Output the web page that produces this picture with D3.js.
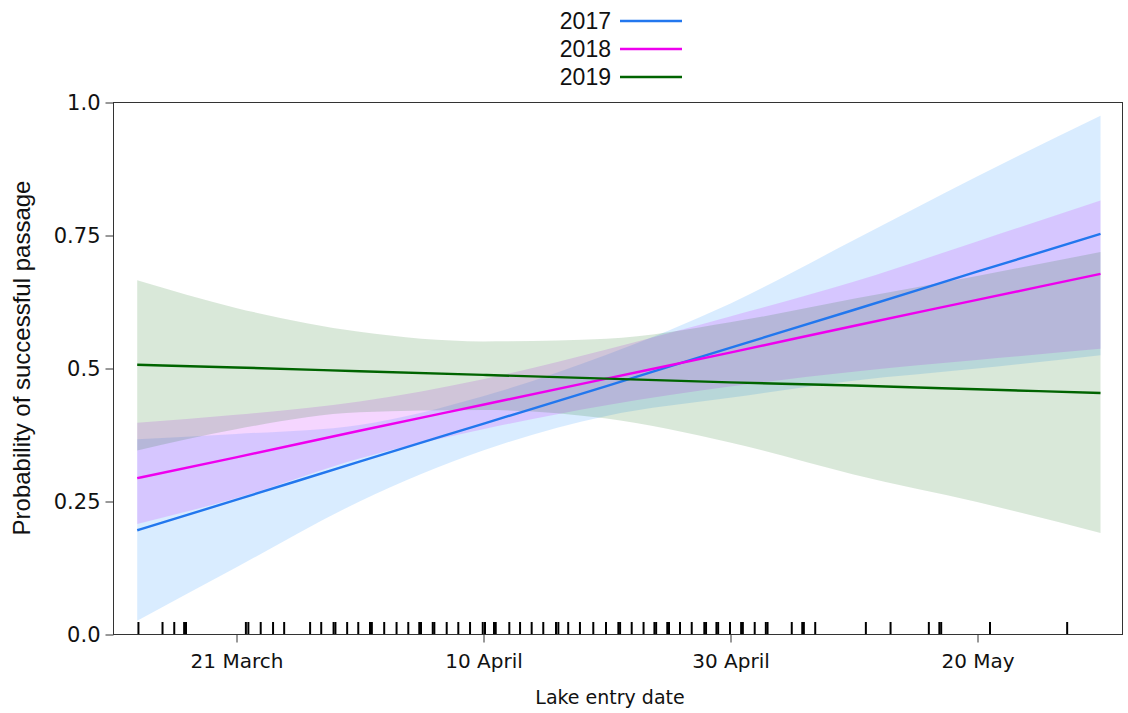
<!DOCTYPE html>
<html>
<head>
<meta charset="utf-8">
<script src="https://cdn.jsdelivr.net/npm/d3@7"></script>
<style>
  html, body { margin: 0; padding: 0; background: #fff; }
  svg { display: block; }
</style>
</head>
<body>
<svg id="chart" width="1128" height="713"></svg>
<script>
// Lake entry day-of-year at which fitted curves and bands are evaluated
const days = [72, 80, 90, 100, 110, 120, 130, 140, 150];

// Fitted probability of successful passage and 95% interval, by year
const fit2017 = [0.195, 0.252, 0.324, 0.395, 0.466, 0.538, 0.609, 0.681, 0.752];
const lo2017  = [0.025, 0.125, 0.249, 0.345, 0.410, 0.444, 0.476, 0.499, 0.524];
const hi2017  = [0.366, 0.376, 0.393, 0.447, 0.525, 0.621, 0.740, 0.860, 0.974];

const fit2018 = [0.293, 0.332, 0.382, 0.431, 0.480, 0.529, 0.579, 0.628, 0.677];
const lo2018  = [0.207, 0.255, 0.330, 0.385, 0.430, 0.465, 0.493, 0.515, 0.536];
const hi2018  = [0.397, 0.412, 0.437, 0.479, 0.535, 0.597, 0.662, 0.738, 0.815];

const fit2019 = [0.506, 0.501, 0.494, 0.487, 0.480, 0.473, 0.467, 0.460, 0.453];
const lo2019  = [0.345, 0.385, 0.417, 0.421, 0.405, 0.360, 0.300, 0.248, 0.190];
const hi2019  = [0.665, 0.613, 0.568, 0.550, 0.555, 0.586, 0.630, 0.673, 0.718];

// Individual lake entry days (rug)
const entryDays = [
  72.1, 74.05, 75.0, 75.8, 75.95, 80.8, 81.0, 82.0, 83.0, 83.9, 86.0, 86.9, 87.9, 88.05,
  89.0, 89.9, 90.85, 91.0, 92.0, 93.0, 93.95, 94.84, 94.98, 95.93, 96.06, 97.06, 98.0,
  98.95, 99.98, 100.16, 100.89, 101.03, 102.13, 103.0, 103.94, 104.88, 105.91, 106.1,
  106.9, 107.85, 108.93, 109.96, 110.96, 111.1, 112.04, 113.0, 113.88, 114.02, 114.92,
  115.06, 115.95, 116.9, 117.92, 118.06, 118.9, 119.04, 120.0, 120.9, 121.04, 122.0,
  122.9, 123.04, 125.0, 125.85, 125.98, 126.9, 131.0, 133.0, 136.1, 136.95, 137.1,
  141.05, 147.3
];

// Axis ticks
const xTickDays   = [80, 100, 120, 140];
const xTickLabels = ["21 March", "10 April", "30 April", "20 May"];
const yTickValues = [0, 0.25, 0.5, 0.75, 1];
const yTickLabels = ["0.0", "0.25", "0.5", "0.75", "1.0"];

const years      = ["2017", "2018", "2019"];
const lineColors = ["#2277ee", "#ee00ee", "#006400"];
const bandColors = ["#1e90ff", "#cc33ff", "#006400"];
const bandAlpha  = [0.17, 0.2, 0.15];

const series = [
  { fit: fit2017, lo: lo2017, hi: hi2017 },
  { fit: fit2018, lo: lo2018, hi: hi2018 },
  { fit: fit2019, lo: lo2019, hi: hi2019 }
];

const plot = { left: 113, right: 1122, top: 102, bottom: 634 };

const x = d3.scaleLinear().domain([70.04, 151.74]).range([plot.left, plot.right]);
const y = d3.scaleLinear().domain([0, 1]).range([plot.bottom, plot.top]);

const svg = d3.select("#chart");

// Confidence bands
const area = d3.area()
  .x(d => x(d.day))
  .y0(d => y(d.lo))
  .y1(d => y(d.hi))
  .curve(d3.curveMonotoneX);

series.forEach((s, i) => {
  const pts = days.map((day, k) => ({ day, lo: s.lo[k], hi: s.hi[k] }));
  svg.append("path")
    .attr("d", area(pts))
    .attr("fill", bandColors[i])
    .attr("fill-opacity", bandAlpha[i]);
});

// Fitted lines
const line = d3.line()
  .x(d => x(d.day))
  .y(d => y(d.p))
  .curve(d3.curveMonotoneX);

series.forEach((s, i) => {
  const pts = days.map((day, k) => ({ day, p: s.fit[k] }));
  svg.append("path")
    .attr("d", line(pts))
    .attr("fill", "none")
    .attr("stroke", lineColors[i])
    .attr("stroke-width", 2.4);
});

// Rug of entry days along the bottom
svg.append("g")
  .selectAll("line")
  .data(entryDays)
  .join("line")
  .attr("x1", d => x(d)).attr("x2", d => x(d))
  .attr("y1", y(0) - 12).attr("y2", y(0))
  .attr("stroke", "#000")
  .attr("stroke-width", 2);

// Plot frame
svg.append("rect")
  .attr("x", plot.left + 0.5).attr("y", plot.top + 0.5)
  .attr("width", plot.right - plot.left).attr("height", plot.bottom - plot.top)
  .attr("fill", "none")
  .attr("stroke", "#333")
  .attr("stroke-width", 1);

// Axes
const xAxis = d3.axisBottom(x)
  .tickValues(xTickDays)
  .tickFormat((d, i) => xTickLabels[i])
  .tickSize(8)
  .tickPadding(11);

const gx = svg.append("g")
  .attr("transform", `translate(0.5,${plot.bottom + 0.5})`)
  .call(xAxis);

const yAxis = d3.axisLeft(y)
  .tickValues(yTickValues)
  .tickFormat((d, i) => yTickLabels[i])
  .tickSize(8)
  .tickPadding(5);

const gy = svg.append("g")
  .attr("transform", `translate(${plot.left + 0.5},0.5)`)
  .call(yAxis);

gx.selectAll(".tick text").style("font-size", "20px");
gy.selectAll(".tick text").style("font-size", "21px");
[gx, gy].forEach(g => {
  g.select(".domain").remove();
  g.selectAll(".tick line").attr("stroke", "#333");
  g.selectAll(".tick text")
    .attr("fill", "#111")
    .style("font-family", "'DejaVu Sans', Verdana, sans-serif");
});

// Axis titles
svg.append("text")
  .attr("x", 610).attr("y", 704)
  .attr("text-anchor", "middle")
  .style("font-family", "'DejaVu Sans', Verdana, sans-serif")
  .style("font-size", "19px")
  .attr("fill", "#111")
  .text("Lake entry date");

svg.append("text")
  .attr("transform", `translate(30,358) rotate(-90)`)
  .attr("text-anchor", "middle")
  .style("font-family", "'Liberation Sans', Arial, sans-serif")
  .style("font-size", "24px")
  .attr("fill", "#111")
  .text("Probability of successful passage");

// Legend
const legend = svg.append("g");
years.forEach((yr, i) => {
  const cy = 21 + i * 28;
  legend.append("text")
    .attr("x", 611).attr("y", cy)
    .attr("dy", "0.35em")
    .attr("text-anchor", "end")
    .style("font-family", "'Liberation Sans', Arial, sans-serif")
    .style("font-size", "23px")
    .attr("fill", "#111")
    .text(yr);
  legend.append("line")
    .attr("x1", 620).attr("x2", 682)
    .attr("y1", cy).attr("y2", cy)
    .attr("stroke", lineColors[i])
    .attr("stroke-width", 2.4);
});
</script>
</body>
</html>
